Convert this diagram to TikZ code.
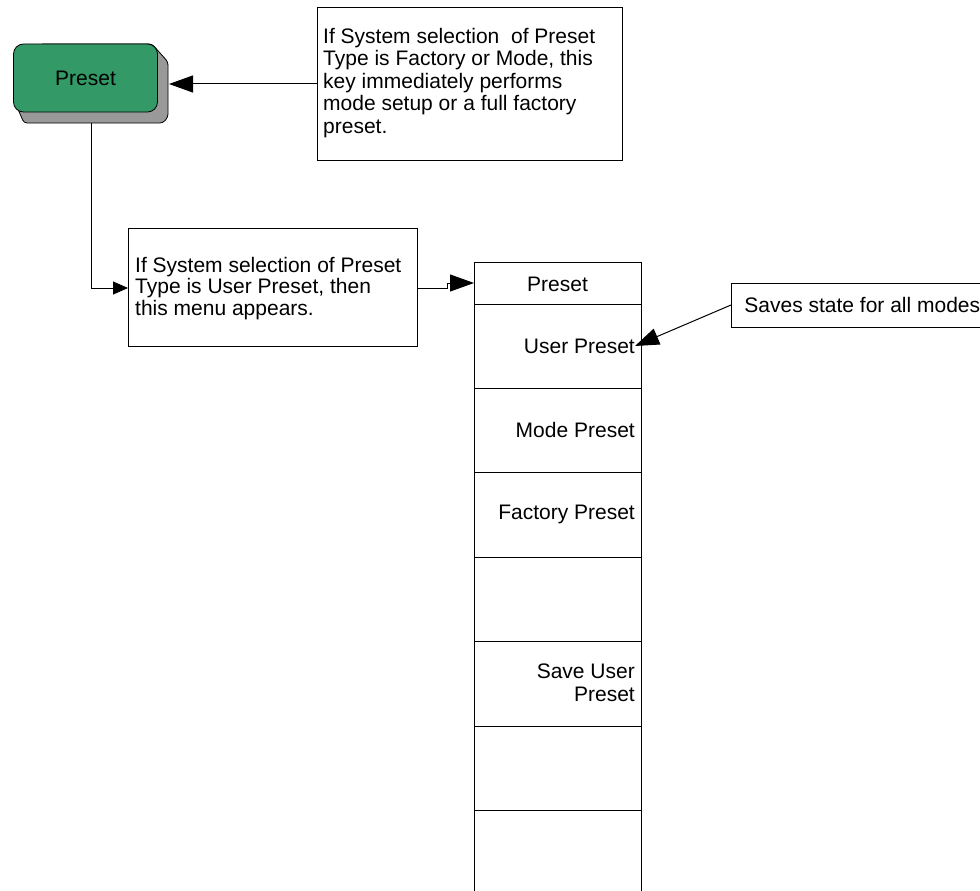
\documentclass[tikz,border=0pt]{standalone}
\usepackage{fontspec}
\setmainfont{Liberation Sans}
\usetikzlibrary{arrows.meta}
\definecolor{keygreen}{RGB}{51,153,102}
\definecolor{shadowgray}{RGB}{153,153,153}
\begin{document}
\begin{tikzpicture}[x=1pt,y=-1pt,
  every node/.style={font=\fontsize{21}{22}\selectfont},
  box/.style={draw=black,line width=0.8pt,fill=white,inner sep=0pt,anchor=north west},
  txt/.style={inner sep=0pt,align=left},
  menurow/.style={draw=black,line width=0.8pt,inner sep=0pt,anchor=north west,minimum width=167pt},
  conn/.style={draw=black,line width=1pt},
  bigtip/.style={-{Triangle[length=24pt,width=17pt]}},
  smalltip/.style={-{Triangle[length=15pt,width=13pt]}}]
\useasboundingbox (0,0) rectangle (980,891);
\clip (0,0) rectangle (980,891);
\fill[white] (0,0) rectangle (980,891);
% Preset hard key with shadow
\filldraw[fill=shadowgray,draw=black,line width=0.8pt,rounded corners=3pt]
  (40,44) -- (152,44) -- (168,62) -- (168,117) -- (163,123) -- (24,123) -- (14,100) -- cycle;
\coordinate (keyE) at (169,84);
\coordinate (keyS) at (91,123);
\node[draw=black,line width=0.8pt,fill=keygreen,rounded corners=10pt,
  minimum width=144pt,minimum height=68pt,inner sep=0pt] (key) at (85.5,78) {Preset};
% explanation box 1
\node[box,minimum width=305pt,minimum height=153pt] (b1) at (317,7) {};
\node[txt,anchor=north west,font=\fontsize{21}{22.5}\selectfont] (t1) at (323,28) {If System selection\ \ of Preset\\Type is Factory or Mode, this\\key immediately performs\\mode setup or a full factory\\preset.};
% explanation box 2
\node[box,minimum width=289pt,minimum height=118pt] (b2) at (128,228) {};
\node[txt,anchor=north west,font=\fontsize{21}{21.5}\selectfont] (t2) at (135,257) {If System selection of Preset\\Type is User Preset, then\\this menu appears.};
% menu
\node[menurow,minimum height=42pt] (m0) at (474,262) {};
\node[menurow,minimum height=84pt] (m1) at (474,304) {};
\node[menurow,minimum height=84pt] (m2) at (474,388) {};
\node[menurow,minimum height=85pt] (m3) at (474,472) {};
\node[menurow,minimum height=84pt] (m4) at (474,557) {};
\node[menurow,minimum height=85pt] (m5) at (474,641) {};
\node[menurow,minimum height=84pt] (m6) at (474,726) {};
\node[menurow,minimum height=100pt] (m7) at (474,810) {};
\node[txt] (h0) at (557.5,284) {Preset};
\node[txt,anchor=east] (h1) at (635,346) {User Preset};
\node[txt,anchor=east] (h2) at (635,430) {Mode Preset};
\node[txt,anchor=east] (h3) at (635,514) {Factory Preset};
\node[txt,anchor=east,align=right,font=\fontsize{21}{23}\selectfont] (h5) at (635,683) {Save User\\Preset};
% saves box
\node[draw=black,line width=0.8pt,anchor=west,inner xsep=13pt,minimum height=44pt] (sv) at (731,305) {Saves state for all modes};
% connectors
\draw[conn,bigtip] (b1.west |- keyE) -- (keyE);
\draw[conn,smalltip] (keyS) -- (keyS |- 0,288) -- (b2.west |- 0,288);
\draw[conn,bigtip] (b2.east |- 0,288) -- (447,288) -- (447,283) -- (m0.west |- 0,283);
\draw[conn,bigtip] (sv.west) -- (h1.east);
\end{tikzpicture}
\end{document}
